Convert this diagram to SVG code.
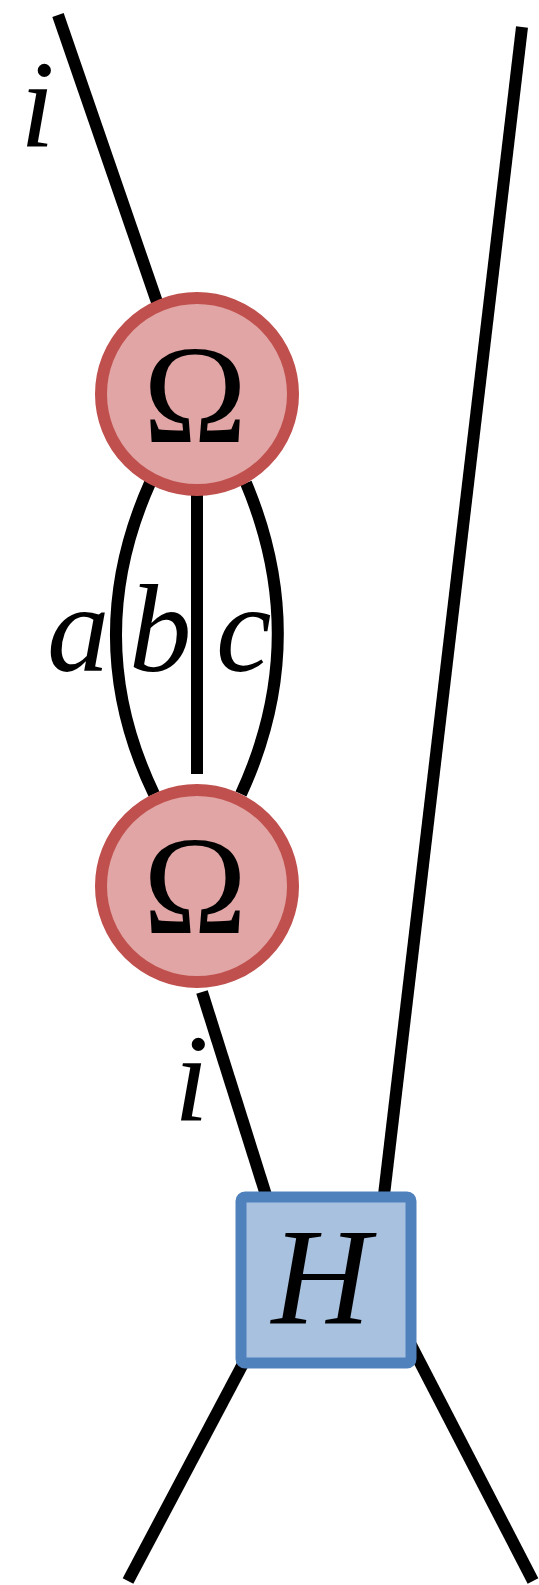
<svg xmlns="http://www.w3.org/2000/svg" width="539" height="1585" viewBox="0 0 539 1585">
<style>
.w{stroke:#000;stroke-width:12;fill:none;stroke-linecap:butt}
.om{fill:#e0a5a4;stroke:#c0504d;stroke-width:12}
.hb{fill:#a8c1df;stroke:#4f81bd;stroke-width:11}
.lab{font-family:"Liberation Serif","Times New Roman",serif;font-style:italic;fill:#000}
.big{font-family:"Liberation Serif","Times New Roman",serif;fill:#000;text-anchor:middle}
</style>
<rect width="539" height="1585" fill="#fff"/>
<g id="connectors">
<line class="w" x1="58" y1="15" x2="158" y2="305"/>
<line class="w" x1="522" y1="27" x2="384" y2="1195"/>
<path class="w" d="M150,483 Q80,640 154,794"/>
<line class="w" x1="197" y1="490" x2="197" y2="774"/>
<path class="w" d="M246,483 Q312,640 241,794"/>
<line class="w" x1="202" y1="992" x2="266" y2="1195"/>
<line class="w" x1="245" y1="1360" x2="128" y2="1581"/>
<line class="w" x1="411" y1="1345" x2="533" y2="1581"/>
</g>
<g id="labels">
<text class="lab" x="20" y="147" font-size="125">i</text>
<text class="lab" x="47" y="671" font-size="125">a</text>
<text class="lab" x="129" y="671" font-size="125">b</text>
<text class="lab" x="216" y="671" font-size="125">c</text>
<text class="lab" x="174" y="1121" font-size="125">i</text>
</g>
<g id="omega1">
<circle class="om" cx="197" cy="394" r="96"/>
<text class="big" x="195" y="442" font-size="140">Ω</text>
</g>
<g id="omega2">
<circle class="om" cx="197" cy="886" r="96"/>
<text class="big" x="195" y="933" font-size="140">Ω</text>
</g>
<g id="H">
<rect class="hb" x="241" y="1197" width="170" height="166" rx="4"/>
<text class="lab" x="321" y="1323" font-size="137" text-anchor="middle">H</text>
</g>
</svg>
